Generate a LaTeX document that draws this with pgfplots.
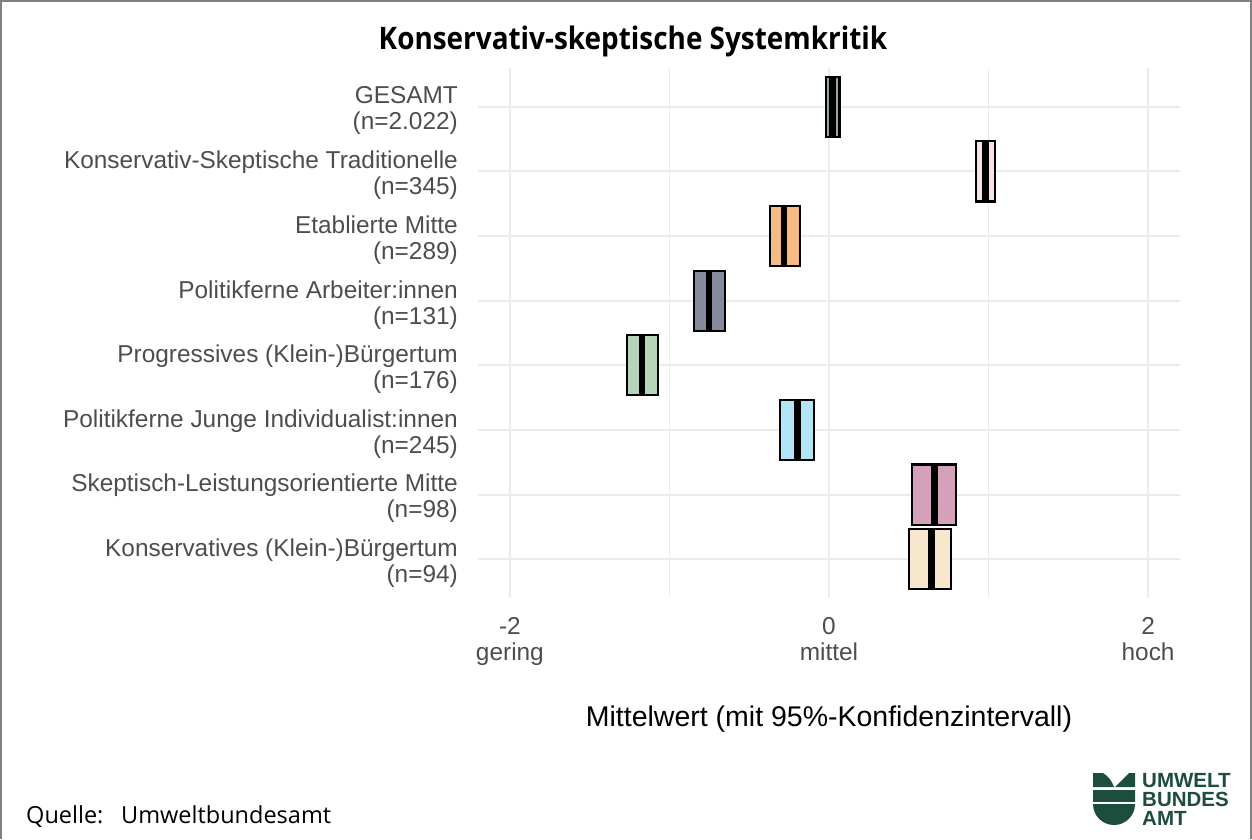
\documentclass[border=0pt]{standalone}
\usepackage{fontspec}
\setmainfont{Liberation Sans}
\newfontfamily\osfont{Open Sans}
\newfontfamily\titlefont[FakeStretch=0.9]{Open Sans}
\usepackage{pgfplots}
\pgfplotsset{compat=1.18}
\usepgfplotslibrary{statistics}

\definecolor{cGes}{HTML}{8FA79C}
\definecolor{cKST}{HTML}{F9E1E6}
\definecolor{cEM}{HTML}{F6BA85}
\definecolor{cPA}{HTML}{868A9D}
\definecolor{cPB}{HTML}{B5D4B9}
\definecolor{cPJ}{HTML}{B3E5F8}
\definecolor{cSL}{HTML}{D4A0BA}
\definecolor{cKB}{HTML}{F7E7CC}
\definecolor{gridc}{HTML}{EBEBEB}
\definecolor{txt}{HTML}{4D4D4D}
\definecolor{uba}{HTML}{1D4D3B}
\definecolor{frame}{HTML}{808080}

\newcommand{\tickfont}{\fontsize{24.4}{26}\selectfont}

\begin{document}
\begin{tikzpicture}
\path[use as bounding box] (0,0) rectangle (1252pt,-839pt);
\draw[frame, line width=2pt] (1pt,-839pt) -- (1pt,-1pt) -- (1251pt,-1pt) -- (1251pt,-839pt);

\node[anchor=base, font=\titlefont\bfseries\fontsize{31}{34}\selectfont] at (633pt,-49pt) {Konservativ-skeptische Systemkritik};

\begin{axis}[
  at={(478pt,-598pt)}, anchor=south west,
  scale only axis, width=702pt, height=530pt,
  xmin=-2.2, xmax=2.2, ymin=0.4, ymax=8.6,
  xtick={-2,0,2}, minor xtick={-1,1},
  xticklabels={{-2\\gering},{0\\mittel},{2\\hoch}},
  ytick={1,2,3,4,5,6,7,8},
  yticklabels={
    {Konservatives (Klein-)Bürgertum\\(n=94)},
    {Skeptisch-Leistungsorientierte Mitte\\(n=98)},
    {Politikferne Junge Individualist:innen\\(n=245)},
    {Progressives (Klein-)Bürgertum\\(n=176)},
    {Politikferne Arbeiter:innen\\(n=131)},
    {Etablierte Mitte\\(n=289)},
    {Konservativ-Skeptische Traditionelle\\(n=345)},
    {GESAMT\\(n=2.022)}},
  xticklabel style={align=center, font=\tickfont, text=txt, inner sep=0pt, anchor=north, yshift=-19pt},
  yticklabel style={align=right, font=\tickfont, text=txt, inner sep=0pt, anchor=east, xshift=-20pt, yshift=-4pt},
  axis line style={draw=none},
  major tick length=0pt, minor tick length=0pt,
  xmajorgrids, xminorgrids, ymajorgrids,
  major grid style={gridc, line width=1.9pt},
  minor grid style={gridc, line width=1pt},
  xlabel={Mittelwert (mit 95\%-Konfidenzintervall)},
  xlabel style={at={(axis description cs:0.5,0)}, anchor=north, inner sep=0pt, yshift=-108pt, font=\fontsize{28.5}{30}\selectfont, text=black},
  boxplot/every median/.style={draw=black, line width=6.5pt},
  ci/.style={draw=black, line width=2.2pt},
]
\addplot[ci, fill=cGes, boxplot prepared={lower whisker=-0.018, lower quartile=-0.018, median=0.023, upper quartile=0.066, upper whisker=0.066, draw position=8, box extend=0.93}] coordinates {};
\addplot[ci, fill=cKST, boxplot prepared={lower whisker=0.922, lower quartile=0.922, median=0.982, upper quartile=1.038, upper whisker=1.038, draw position=7, box extend=0.93}] coordinates {};
\addplot[ci, fill=cEM, boxplot prepared={lower whisker=-0.368, lower quartile=-0.368, median=-0.283, upper quartile=-0.183, upper whisker=-0.183, draw position=6, box extend=0.93}] coordinates {};
\addplot[ci, fill=cPA, boxplot prepared={lower whisker=-0.847, lower quartile=-0.847, median=-0.752, upper quartile=-0.652, upper whisker=-0.652, draw position=5, box extend=0.93}] coordinates {};
\addplot[ci, fill=cPB, boxplot prepared={lower whisker=-1.266, lower quartile=-1.266, median=-1.171, upper quartile=-1.073, upper whisker=-1.073, draw position=4, box extend=0.93}] coordinates {};
\addplot[ci, fill=cPJ, boxplot prepared={lower whisker=-0.307, lower quartile=-0.307, median=-0.199, upper quartile=-0.093, upper whisker=-0.093, draw position=3, box extend=0.93}] coordinates {};
\addplot[ci, fill=cSL, boxplot prepared={lower whisker=0.522, lower quartile=0.522, median=0.660, upper quartile=0.797, upper whisker=0.797, draw position=2, box extend=0.93}] coordinates {};
\addplot[ci, fill=cKB, boxplot prepared={lower whisker=0.503, lower quartile=0.503, median=0.641, upper quartile=0.766, upper whisker=0.766, draw position=1, box extend=0.93}] coordinates {};
\end{axis}

\begin{scope}[font=\osfont\fontsize{23.5}{25}\selectfont]
\node[anchor=base west, inner sep=0pt] at (26pt,-823pt) {Quelle:};
\node[anchor=base west, inner sep=0pt] at (121pt,-823pt) {Umweltbundesamt};
\end{scope}

% Logo
\fill[uba] (1093pt,-773pt) -- (1103pt,-773pt) .. controls (1108pt,-776pt) and (1112pt,-781pt) .. (1114pt,-787pt) -- (1093pt,-787pt) -- cycle;
\fill[uba] (1135pt,-773pt) -- (1129pt,-773pt) -- (1115pt,-787pt) -- (1135pt,-787pt) -- cycle;
\fill[uba] (1093pt,-790pt) -- (1135pt,-790pt) -- (1135pt,-804pt) arc (0:-180:21pt) -- cycle;
\draw[white, line width=2.4pt] (1092pt,-803pt) -- (1136pt,-803pt);
\begin{scope}[font=\bfseries\fontsize{20.5}{20.5}\selectfont, text=uba]
\node[anchor=base west, inner sep=0pt] at (1142pt,-787pt) {UMWELT};
\node[anchor=base west, inner sep=0pt] at (1142pt,-806pt) {BUNDES};
\node[anchor=base west, inner sep=0pt] at (1142pt,-825pt) {AMT};
\end{scope}
\end{tikzpicture}
\end{document}
